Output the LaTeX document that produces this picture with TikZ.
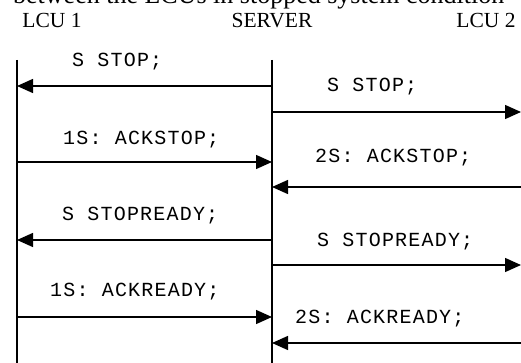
\documentclass[tikz,border=0pt]{standalone}
\usepackage{fontspec}
\setmainfont{Liberation Serif}
\newfontfamily\msgfont[LetterSpace=6]{Liberation Mono}
\usetikzlibrary{arrows.meta}
\begin{document}
\begin{tikzpicture}[x=1pt,y=-1pt,
  lifeline/.style={line width=1.6pt},
  msg/.style={line width=1.4pt,-{Triangle[length=16pt 0,width=14pt 0]}},
  msglabel/.style={font=\msgfont\fontsize{20}{24}\selectfont,inner sep=0pt,anchor=base west},
  head/.style={font=\fontsize{21.5}{25}\selectfont,inner sep=0pt,anchor=base}]
\useasboundingbox (0,0) rectangle (521,363);

% caption line, mostly above the page edge
\node[anchor=base west,font=\fontsize{26}{30}\selectfont,inner sep=0pt] (title) at (13,4)
  {between the LCUs in stopped system condition};

% participants
\node[head] (lcu1) at (52,28) {LCU 1};
\node[head] (srv)  at (272,28) {SERVER};
\node[head] (lcu2) at (486,28) {LCU 2};

% lifelines
\coordinate (l1top) at (17,60);
\coordinate (l1bot) at (17,363);
\coordinate (svtop) at (272,60);
\coordinate (svbot) at (272,363);
\coordinate (edge)  at (521,60);
\draw[lifeline] (l1top) -- (l1bot);
\draw[lifeline] (svtop) -- (svbot);

% message levels
\coordinate (m1) at (0,86);
\coordinate (m2) at (0,112);
\coordinate (m3) at (0,162);
\coordinate (m4) at (0,187);
\coordinate (m5) at (0,240);
\coordinate (m6) at (0,265);
\coordinate (m7) at (0,317);
\coordinate (m8) at (0,343);

% messages
\draw[msg] (svtop |- m1) -- (l1top |- m1);
\draw[msg] (svtop |- m2) -- (edge |- m2);
\draw[msg] (l1top |- m3) -- (svtop |- m3);
\draw[msg] (edge |- m4) -- (svtop |- m4);
\draw[msg] (svtop |- m5) -- (l1top |- m5);
\draw[msg] (svtop |- m6) -- (edge |- m6);
\draw[msg] (l1top |- m7) -- (svtop |- m7);
\draw[msg] (edge |- m8) -- (svtop |- m8);

% message labels
\node[msglabel] (t1) at (72,67)  {S STOP;};
\node[msglabel] (t2) at (327,92) {S STOP;};
\node[msglabel] (t3) at (63,145) {1S: ACKSTOP;};
\node[msglabel] (t4) at (315,163) {2S: ACKSTOP;};
\node[msglabel] (t5) at (62,220) {S STOPREADY;};
\node[msglabel] (t6) at (317,246) {S STOPREADY;};
\node[msglabel] (t7) at (50,296) {1S: ACKREADY;};
\node[msglabel] (t8) at (295,323) {2S: ACKREADY;};
\end{tikzpicture}
\end{document}
